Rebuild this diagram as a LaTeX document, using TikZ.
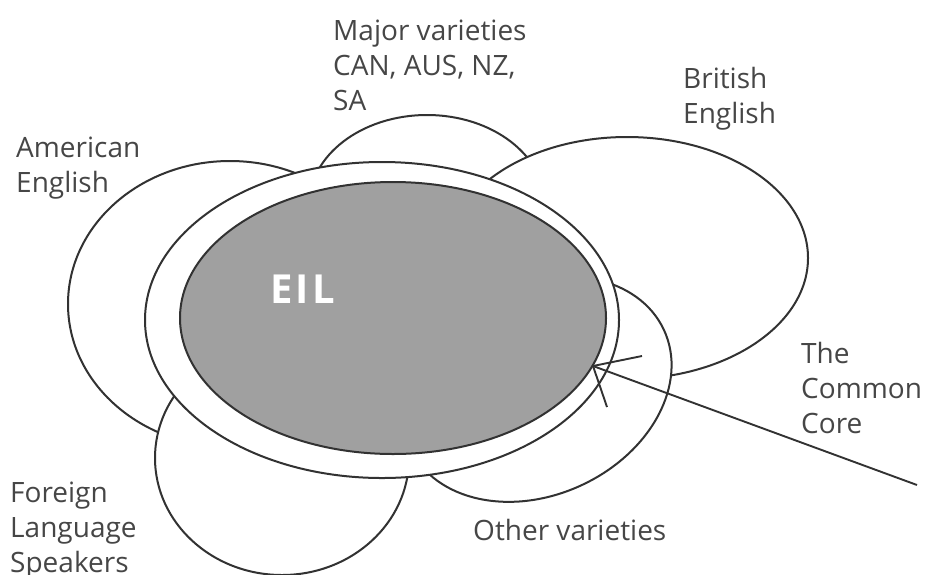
\documentclass[tikz,border=0pt]{standalone}
\usepackage{fontspec}
\newfontfamily\labfont{Open Sans}
\usetikzlibrary{shapes.geometric}
\definecolor{linecol}{RGB}{50,50,50}
\definecolor{labcol}{RGB}{70,70,70}
\definecolor{eilgray}{RGB}{160,160,160}
\tikzset{
  petal/.style={ellipse, draw=linecol, fill=white, line width=2pt, inner sep=0pt},
  lab/.style={anchor=base west, inner sep=0pt, text=labcol,
    font=\labfont\fontsize{28}{35}\selectfont},
  conn/.style={draw=linecol, line width=1.9pt}
}
\newcommand{\mylines}[1]{\begin{tabular}[t]{@{}l@{}}#1\end{tabular}}
\begin{document}
\begin{tikzpicture}[x=1pt,y=-1pt]
\useasboundingbox (0,0) rectangle (928,574);
% petals
\node[petal, minimum width=324pt, minimum height=286pt] (am) at (230,304) {};
\node[petal, minimum width=254pt, minimum height=234pt] (fl) at (282,458) {};
\node[petal, minimum width=236pt, minimum height=180pt] (mj) at (427,205) {};
\node[petal, minimum width=362pt, minimum height=242pt] (br) at (627,258) {};
\node[petal, rotate=25, minimum width=280pt, minimum height=212pt] (ot) at (537,389) {};
% outer ring and core
\node[petal, minimum width=474pt, minimum height=316pt] (ring) at (382,320) {};
\node[ellipse, draw=linecol, fill=eilgray, line width=2pt, inner sep=0pt,
      minimum width=426pt, minimum height=272pt] (eil) at (393,318) {};
\node[anchor=base west, inner sep=0pt, text=white,
      font=\labfont\bfseries\fontsize{40}{42}\selectfont\addfontfeatures{LetterSpace=8}] (eiltxt) at (270,303) {EIL};
% labels
\node[lab] (lmj) at (333,40) {\mylines{Major varieties\\CAN, AUS, NZ,\\SA}};
\node[lab] (lam) at (16,157) {\mylines{American\\English}};
\node[lab] (lbr) at (683,88) {\mylines{British\\English}};
\node[lab] (lfl) at (10,502) {\mylines{Foreign\\Language\\Speakers}};
\node[lab] (lot) at (473,540) {Other varieties};
\node[lab] (lcc) at (801,363) {\mylines{The\\Common\\Core}};
% arrow to the common core
\coordinate (tip) at (593,366);
\coordinate (tail) at (917,485);
\coordinate (barbA) at (642,356);
\coordinate (barbB) at (607,407);
\draw[conn] (tail) -- (tip);
\draw[conn] (tip) -- (barbA);
\draw[conn] (tip) -- (barbB);
\end{tikzpicture}
\end{document}
